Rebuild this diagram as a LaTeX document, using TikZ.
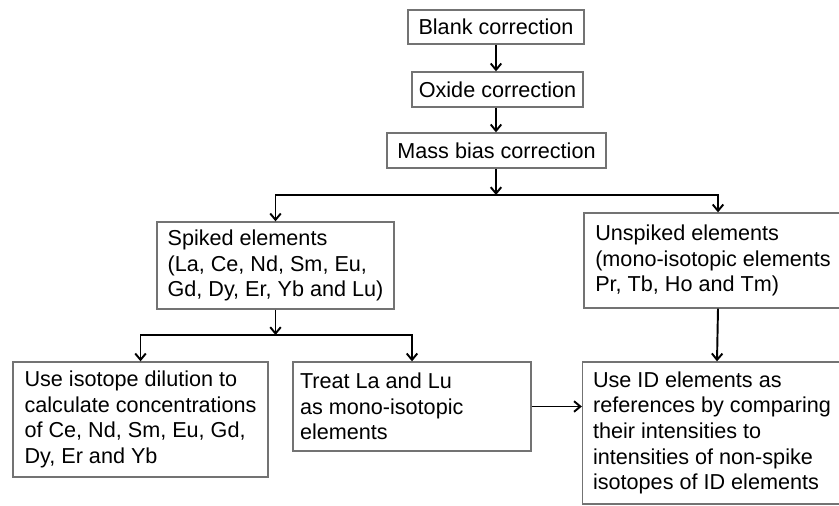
\documentclass[tikz,border=0pt]{standalone}
\usepackage{fontspec}
\setmainfont{Liberation Sans}
\usetikzlibrary{arrows.meta}

\tikzset{
  box/.style={draw=black!55, line width=0.75pt, inner xsep=0pt, inner ysep=0pt,
    align=left, font=\fontsize{12.3}{14.6}\selectfont},
  onebox/.style={box, align=center},
  flow/.style={-{Straight Barb[length=3.6pt,width=6pt]}, line width=1.1pt}
}

\begin{document}
\begin{tikzpicture}[x=0.02cm, y=-0.02cm]
\useasboundingbox (0,0) rectangle (839,506);

% correction steps
\node [onebox, minimum width=3.52cm, minimum height=0.68cm] (blank) at (496,27) {Blank correction};
\node [onebox, minimum width=3.42cm, minimum height=0.70cm] (oxide) at (497.5,89.5) {Oxide correction};
\node [onebox, minimum width=4.38cm, minimum height=0.70cm] (mass) at (496.5,150.5) {Mass bias correction};

% element groups
\node [box, minimum width=4.74cm, minimum height=1.74cm] (spiked) at (275.5,265.5)
  {Spiked elements\\(La, Ce, Nd, Sm, Eu,\\Gd, Dy, Er, Yb and Lu)};
\node [box, minimum width=5.16cm, minimum height=1.90cm] (unspiked) at (713,260.5)
  {Unspiked elements\\(mono-isotopic elements\\Pr, Tb, Ho and Tm)};

% methods
\node [box, minimum width=5.10cm, minimum height=2.30cm] (isotope) at (140.5,419.5)
  {Use isotope dilution to\\calculate concentrations\\of Ce, Nd, Sm, Eu, Gd,\\Dy, Er and Yb\hphantom{, Eu, Gd,}};
\node [box, minimum width=4.76cm, minimum height=1.78cm] (treat) at (412,406.5)
  {Treat La and Lu\hphantom{ and Lu}\\as mono-isotopic\\elements};
\node [box, minimum width=5.18cm, minimum height=2.84cm] (idref) at (712,433)
  {Use ID elements as\\references by comparing\\their intensities to\\intensities of non-spike\\isotopes of ID elements};

\coordinate (split) at (496,195);
\coordinate (split2) at (275.5,335);

\draw [flow] (blank.south) -- (blank.south |- oxide.north);
\draw [flow] (oxide.south -| blank.south) -- (blank.south |- mass.north);
\draw [flow] (mass.south -| split) -- (split);
\draw [flow] (split) -| (spiked.north);
\draw [flow] (split) -| ([xshift=0.1cm]unspiked.north);

\draw [flow] (spiked.south) -- (split2);
\draw [flow] (split2) -| (isotope.north);
\draw [flow] (split2) -| (treat.north);

\draw [flow] (treat.east) -- (idref.west |- treat.east);
\draw [flow] ([xshift=0.1cm]unspiked.south) -- ([xshift=0.1cm]idref.north);
\end{tikzpicture}
\end{document}
